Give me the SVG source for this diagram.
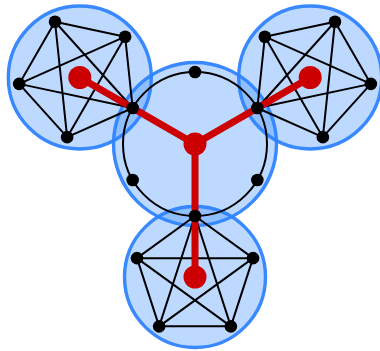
<svg xmlns="http://www.w3.org/2000/svg" width="380" height="351" viewBox="0 0 380 351">
<style>
.area{fill:#3388ff;fill-opacity:0.32;stroke:#2f83ff;stroke-width:3.4;stroke-opacity:0.95}
.edge{stroke:#000;stroke-width:2;fill:none}
.tree{stroke:#cc0000;stroke-width:7;stroke-linecap:round;fill:none}
.v{fill:#000}
.r{fill:#cc0000}
</style>
<rect width="380" height="351" fill="#fff"/>
<g id="areas">
<circle id="area-main" class="area" cx="195" cy="144" r="81.5"/>
<circle id="area-tl" class="area" cx="79.8" cy="77.5" r="71.5"/>
<circle id="area-tr" class="area" cx="310.2" cy="77.5" r="71.5"/>
<circle id="area-b" class="area" cx="195" cy="277" r="70.5"/>
</g>
<g id="connectors">
<circle class="edge" cx="195" cy="144" r="72"/>
<g id="edges-tl">
<path class="edge" d="M132.65,108L67.14,137.17M132.65,108L19.15,83.88M132.65,108L55.01,21.77M132.65,108L125.15,36.68M67.14,137.17L19.15,83.88M67.14,137.17L55.01,21.77M67.14,137.17L125.15,36.68M19.15,83.88L55.01,21.77M19.15,83.88L125.15,36.68M55.01,21.77L125.15,36.68"/>
</g>
<g id="edges-tr">
<path class="edge" d="M257.35,108L322.86,137.17M257.35,108L370.85,83.88M257.35,108L334.99,21.77M257.35,108L264.85,36.68M322.86,137.17L370.85,83.88M322.86,137.17L334.99,21.77M322.86,137.17L264.85,36.68M370.85,83.88L334.99,21.77M370.85,83.88L264.85,36.68M334.99,21.77L264.85,36.68"/>
</g>
<g id="edges-b">
<path class="edge" d="M195,216L253.02,258.15M195,216L230.86,326.35M195,216L159.14,326.35M195,216L136.98,258.15M253.02,258.15L230.86,326.35M253.02,258.15L159.14,326.35M253.02,258.15L136.98,258.15M230.86,326.35L159.14,326.35M230.86,326.35L136.98,258.15M159.14,326.35L136.98,258.15"/>
</g>
<g id="tree">
<path class="tree" d="M195,144L79.8,77.5M195,144L310.2,77.5M195,144L195,277"/>
</g>
</g>
<g id="node-center"><circle class="r" cx="195" cy="144" r="11.5"/></g>
<g id="node-tl-root"><circle class="r" cx="79.8" cy="77.5" r="11.5"/></g>
<g id="node-tr-root"><circle class="r" cx="310.2" cy="77.5" r="11.5"/></g>
<g id="node-b-root"><circle class="r" cx="195" cy="277" r="11.5"/></g>
<g id="nodes-ring">
<circle class="v" cx="195" cy="72" r="6.3"/>
<circle class="v" cx="257.35" cy="108" r="6.3"/>
<circle class="v" cx="257.35" cy="180" r="6.3"/>
<circle class="v" cx="195" cy="216" r="6.3"/>
<circle class="v" cx="132.65" cy="180" r="6.3"/>
<circle class="v" cx="132.65" cy="108" r="6.3"/>
</g>
<g id="nodes-tl">
<circle class="v" cx="67.14" cy="137.17" r="6.3"/>
<circle class="v" cx="19.15" cy="83.88" r="6.3"/>
<circle class="v" cx="55.01" cy="21.77" r="6.3"/>
<circle class="v" cx="125.15" cy="36.68" r="6.3"/>
</g>
<g id="nodes-tr">
<circle class="v" cx="322.86" cy="137.17" r="6.3"/>
<circle class="v" cx="370.85" cy="83.88" r="6.3"/>
<circle class="v" cx="334.99" cy="21.77" r="6.3"/>
<circle class="v" cx="264.85" cy="36.68" r="6.3"/>
</g>
<g id="nodes-b">
<circle class="v" cx="253.02" cy="258.15" r="6.3"/>
<circle class="v" cx="230.86" cy="326.35" r="6.3"/>
<circle class="v" cx="159.14" cy="326.35" r="6.3"/>
<circle class="v" cx="136.98" cy="258.15" r="6.3"/>
</g>
</svg>
